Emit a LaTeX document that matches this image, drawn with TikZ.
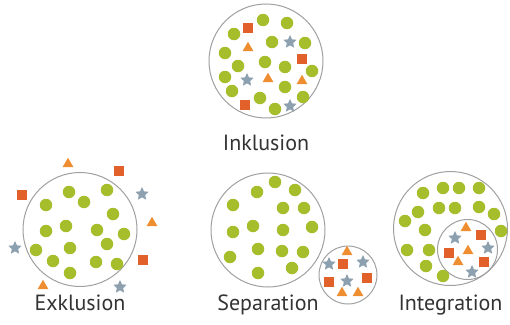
\documentclass[tikz,border=0pt]{standalone}
\usepackage{fontspec}
\setmainfont{PT Sans}
\usetikzlibrary{
positioning,
shapes.geometric
}
\definecolor{dotgreen}{RGB}{166,189,44}
\definecolor{sqorange}{RGB}{226,97,43}
\definecolor{triorange}{RGB}{239,142,48}
\definecolor{stargray}{RGB}{141,160,176}
\definecolor{ringgray}{RGB}{160,160,160}
\definecolor{textgray}{RGB}{51,51,51}
\tikzset{
ring/.style={draw=ringgray,line width=1pt,circle,inner sep=0,outer sep=0},
dot/.style={circle,fill=dotgreen,inner sep=0,minimum size=12.5pt},
sq/.style={rectangle,fill=sqorange,inner sep=0,minimum size=9.5pt},
tri/.style={regular polygon,regular polygon sides=3,fill=triorange,inner sep=0,minimum size=12.5pt},
stargl/.style={star,star points=5,star point ratio=2.1,fill=stargray,inner sep=0,minimum size=14pt},
caption/.style={text=textgray,inner sep=0,font=\fontsize{22}{26}\selectfont}
}

\begin{document}
\begin{tikzpicture}[x=1pt,y=-1pt]
		\useasboundingbox (0,0) rectangle (510,324);

		% Inklusion
		\node[ring,minimum size=114pt] (inkl) at (266,61) {};
		\foreach \p [count=\i] in {(263,20),(287,23),(234,34),(272,42),(305,43),(225,53),(265,62),(238,66),(285,67),(312,71),(225,77),(285,87),(232,91),(303,97),(260,98),(275,109)}
			\node[dot] (inkldot\i) at \p {};
		\foreach \p [count=\i] in {(248,28),(302,59),(245,105)}
			\node[sq] (inklsq\i) at \p {};
		\foreach \p [count=\i] in {(248,48),(268,79),(302,81)}
			\node[tri] (inkltri\i) at \p {};
		\foreach \p [count=\i] in {(290,42),(247,80),(290,106)}
			\node[stargl] (inklstar\i) at \p {};
		\node[caption,below=17pt of inkl] (inkltext) {Inklusion};

		% Exklusion
		\node[ring,minimum size=114pt] (exkl) at (80,229.5) {};
		\foreach \p [count=\i] in {(69,192),(107,190),(46,205),(84,202),(113,214),(66,226),(46,231),(97,230),(124,234),(70,248),(107,244),(36,250),(53,261),(96,262),(117,264),(70,273)}
			\node[dot] (exkldot\i) at \p {};
		\foreach \p [count=\i] in {(119,171),(22,195),(143,260)}
			\node[sq] (exklsq\i) at \p {};
		\foreach \p [count=\i] in {(68,164),(152,223),(43,286)}
			\node[tri] (exkltri\i) at \p {};
		\foreach \p [count=\i] in {(142,194),(15,248),(120,287)}
			\node[stargl] (exklstar\i) at \p {};
		\node[caption,below=8pt of exkl] (exkltext) {Exklusion};

		% Separation
		\node[ring,minimum size=114pt] (sepa) at (268,230) {};
		\node[ring,minimum size=58pt] (sepb) at (348,275) {};
		\foreach \p [count=\i] in {(275,182),(257,192),(295,190),(233,205),(283,208),(304,208),(253,226),(233,232),(283,230),(312,227),(258,249),(282,251),(303,252),(230,257),(292,268),(258,273)}
			\node[dot] (sepdot\i) at \p {};
		\foreach \p [count=\i] in {(343,264),(329,282),(367,278)}
			\node[sq] (sepsq\i) at \p {};
		\foreach \p [count=\i] in {(347,252),(342,293),(358,293)}
			\node[tri] (septri\i) at \p {};
		\foreach \p [count=\i] in {(329,264),(363,262),(347,281)}
			\node[stargl] (sepstar\i) at \p {};
		\node[caption,below=8pt of sepa] (septext) {Separation};

		% Integration
		\node[ring,minimum size=114pt] (inta) at (450.5,228.5) {};
		\node[ring,minimum size=60pt] (intb) at (467.5,249.5) {};
		\foreach \p [count=\i] in {(423,193),(443,188),(459,188),(479,188),(418,212),(439,208),(455,208),(479,207),(494,214),(405,221),(425,230),(501,231),(407,250),(429,250),(426,266),(443,276)}
			\node[dot] (intdot\i) at \p {};
		\foreach \p [count=\i] in {(481,235),(449,253),(484,262)}
			\node[sq] (intsq\i) at \p {};
		\foreach \p [count=\i] in {(466,228),(468,251),(458,262)}
			\node[tri] (inttri\i) at \p {};
		\foreach \p [count=\i] in {(455,238),(488,248),(472,272)}
			\node[stargl] (intstar\i) at \p {};
		\node[caption,below=9pt of inta] (inttext) {Integration};
	\end{tikzpicture}
\end{document}
